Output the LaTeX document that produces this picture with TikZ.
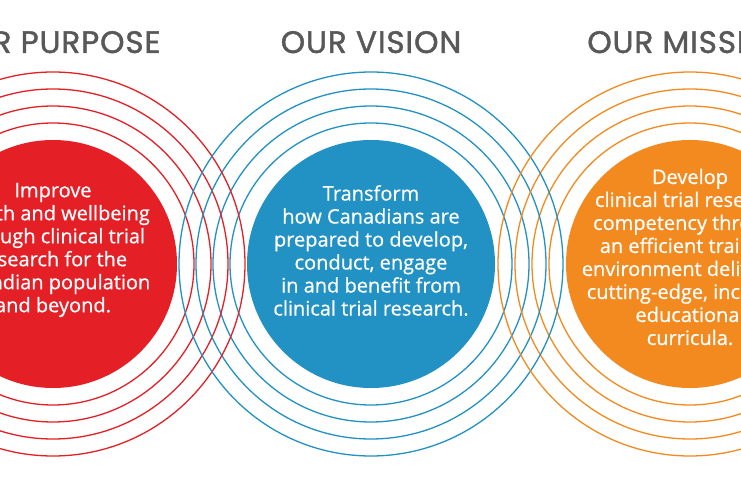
\documentclass[tikz,border=0pt]{standalone}
\usepackage{fontspec}
\setmainfont{Open Sans}[FakeBold=0.6]
\newfontfamily\titlefont{Poppins}[FakeBold=1.4,LetterSpace=3]
\definecolor{cred}{HTML}{E41F26}
\definecolor{cblue}{HTML}{2291C4}
\definecolor{corange}{HTML}{F38A1F}
\definecolor{ctitle}{HTML}{585858}
\tikzset{
  ring/.style={line width=1.3pt},
  disc/.style={circle, minimum size=248pt, inner sep=0pt},
  body/.style={text=white, align=center, font=\fontsize{20}{23}\selectfont},
  heading/.style={text=ctitle, anchor=base, font=\titlefont\fontsize{31}{32}\selectfont}
}
\begin{document}
\begin{tikzpicture}[x=1pt,y=-1pt]
\useasboundingbox (0,0) rectangle (741,486);
\clip (0,0) rectangle (741,486);
\fill[white] (0,0) rectangle (741,486);
\foreach \r in {141,158,175,192} {
  \draw[ring, cred] (53,264) circle[radius=\r];
  \draw[ring, cblue] (371,264) circle[radius=\r];
  \draw[ring, corange] (690,264) circle[radius=\r];
}
\node[disc, fill=cred] (dr) at (53,264) {};
\node[disc, fill=cblue] (db) at (371,264) {};
\node[disc, fill=corange] (do) at (690,264) {};
\node[body] (tr) at (53,250) {Improve\\health and wellbeing\\through clinical trial\\research for the\\Canadian population\\and beyond.};
\node[body] (tb) at (371,250.5) {Transform\\how Canadians are\\prepared to develop,\\conduct, engage\\in and benefit from\\clinical trial research.};
\node[body] (to) at (690,257) {Develop\\clinical trial research\\competency through\\an efficient training\\environment delivering\\cutting-edge, inclusive\\educational\\curricula.};
\node[heading] (hr) at (53,53) {OUR PURPOSE};
\node[heading] (hb) at (371,53) {OUR VISION};
\node[heading] (ho) at (690,53) {OUR MISSION};
\end{tikzpicture}
\end{document}
